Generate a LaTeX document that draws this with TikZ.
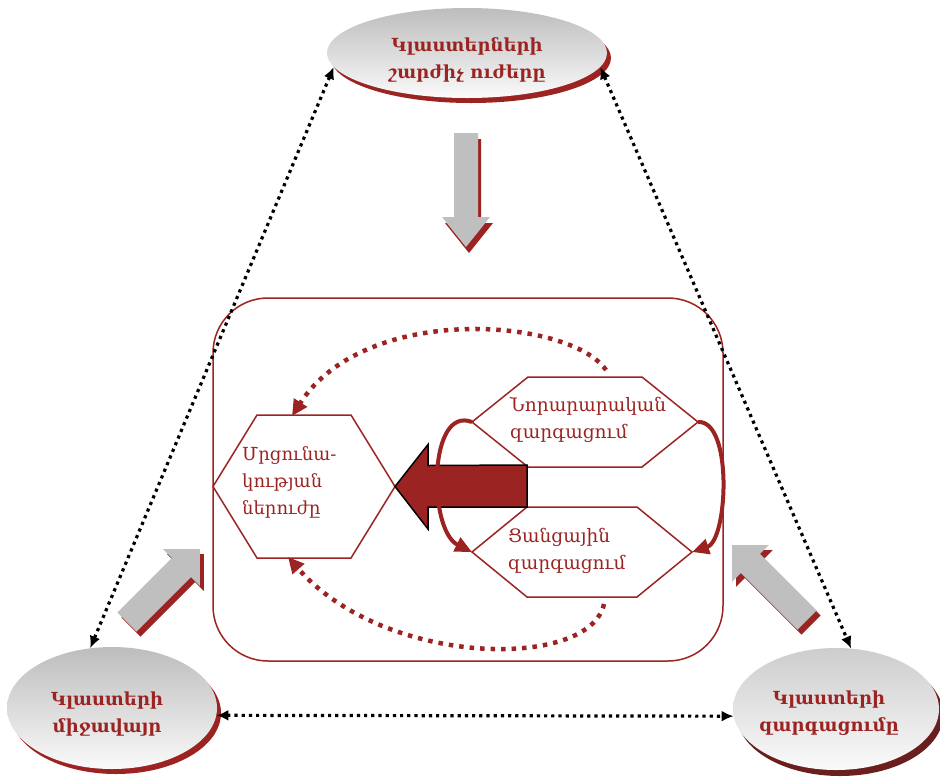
\documentclass[tikz,border=0pt]{standalone}
\usepackage{fontspec}
\setmainfont{DejaVu Serif}
\usetikzlibrary{shapes.geometric,arrows.meta,shadows,calc}
\definecolor{dred}{HTML}{9B2423}
\definecolor{dredb}{HTML}{6A1E1E}
\definecolor{agray}{HTML}{BFBFBF}
\definecolor{etop}{HTML}{BDBDBD}
\definecolor{etopb}{HTML}{CDCDCD}
\definecolor{ebot}{HTML}{FAFAFA}
\newcommand{\hexa}[6]{%
  \coordinate (#1-w) at ({#2-#4},#3);
  \coordinate (#1-e) at ({#2+#4},#3);
  \coordinate (#1-nw) at ({#2-#4+#6},{#3-#5});
  \coordinate (#1-ne) at ({#2+#4-#6},{#3-#5});
  \coordinate (#1-sw) at ({#2-#4+#6},{#3+#5});
  \coordinate (#1-se) at ({#2+#4-#6},{#3+#5});
  \draw[hexline] (#1-w) -- (#1-nw) -- (#1-ne) -- (#1-e) -- (#1-se) -- (#1-sw) -- cycle;
}
\begin{document}
\begin{tikzpicture}[x=1pt,y=-1pt,
  cloud/.style={ellipse, inner sep=0pt, top color=etop, bottom color=ebot,
    general shadow={fill=dred, shadow xshift=4pt, shadow yshift=-5pt}},
  cloudtext/.style={font=\bfseries\fontsize{18}{27}\selectfont, text=dred, align=center, inner sep=0pt},
  hexline/.style={draw=dred, line width=1.5pt, line join=miter},
  hextext/.style={font=\fontsize{18.5}{27}\selectfont, text=dred, align=left, inner sep=0pt, anchor=west},
  blk/.style={line width=3.2pt, dash pattern=on 3.2pt off 4pt, black,
    {Latex[length=12pt,width=11pt]}-{Latex[length=12pt,width=11pt]}},
  carrow/.style={draw=dred, line width=4pt, -{Triangle[length=17pt,width=15pt]}},
  rdot/.style={draw=dred, line width=4.5pt, dash pattern=on 4.5pt off 6pt, -{Triangle[length=16pt,width=15pt]}},
]
\useasboundingbox (0,0) rectangle (940,780);

% frame
\node[draw=dred, line width=1.5pt, rounded corners=55pt, minimum width=510pt, minimum height=363pt, inner sep=0pt] (frame) at (468,479.5) {};

% ellipses
\node[cloud, minimum width=280pt, minimum height=90pt] (top) at (467,53) {};
\node[cloud, minimum width=210pt, minimum height=122pt] (bl) at (112,708) {};
\node[cloud, top color=etopb, general shadow={fill=dredb, shadow xshift=4pt, shadow yshift=-6pt}, minimum width=206pt, minimum height=122pt] (br) at (836,709) {};
\node[cloudtext] (topT) at (467,60) {Կլաստերների\\շարժիչ ուժերը};
\node[cloudtext] (blT) at (107,714) {Կլաստերի\\միջավայր};
\node[cloudtext] (brT) at (829,713) {Կլաստերի\\զարգացումը};

% dotted black connectors
\draw[blk] (top.186) -- (bl.110);
\draw[blk] (top.354) -- (br.76);
\draw[blk] (bl.-4) -- (br.184);

% down arrow
\fill[dred] (457,139) -- (481,139) -- (481,223) -- (493,223) -- (469,253) -- (445,223) -- (457,223) -- cycle;
\fill[agray] (454,133) -- (478,133) -- (478,217) -- (490,217) -- (466,247) -- (442,217) -- (454,217) -- cycle;

% diagonal arrows
\begin{scope}[shift={(131,627)}, rotate=45]
  \fill[dred] (0,-13.5) -- (77,-13.5) -- (77,-26) -- (103,0) -- (77,26) -- (77,13.5) -- (0,13.5) -- cycle;
\end{scope}
\begin{scope}[shift={(127,622)}, rotate=45]
  \fill[agray] (0,-13.5) -- (77,-13.5) -- (77,-26) -- (103,0) -- (77,26) -- (77,13.5) -- (0,13.5) -- cycle;
\end{scope}
\begin{scope}[shift={(811,625)}, rotate=135]
  \fill[dred] (0,-13.5) -- (80,-13.5) -- (80,-26) -- (106,0) -- (80,26) -- (80,13.5) -- (0,13.5) -- cycle;
\end{scope}
\begin{scope}[shift={(807,620)}, rotate=135]
  \fill[agray] (0,-13.5) -- (80,-13.5) -- (80,-26) -- (106,0) -- (80,26) -- (80,13.5) -- (0,13.5) -- cycle;
\end{scope}

% hexagons
\hexa{L}{304}{486.5}{91}{71.5}{44}
\hexa{T}{585}{422}{113}{45}{56}
\hexa{B}{582}{552}{110}{45}{55}
\node[hextext, font=\fontsize{18}{27}\selectfont] (L-t) at (242,482) {Մրցունա-\\կության\\ներուժը};
\node[hextext] (T-t) at (510,420) {Նորարարական\\զարգացում};
\node[hextext] (B-t) at (508,551) {Ցանցային\\զարգացում};

% big arrow
\draw[fill=dred, draw=black, line width=1.5pt, line join=miter]
  (L-e) -- ++(33,-42) -- ++(0,21) -- (527,465) -- (527,507) -- (428,507) -- (428,529) -- cycle;

% curved thick arrows
\draw[carrow] (T-w) .. controls (428,405) and (428,530) .. (B-w);
\draw[carrow] (T-e) .. controls (733,420) and (728,540) .. (B-e);

% dotted red arrows
\coordinate (s1) at (606,370);
\coordinate (L-top) at (292,416);
\coordinate (s2) at (604,604);
\coordinate (L-bot) at (288,557);
\draw[rdot] (s1) .. controls (570,318) and (365,302) .. (L-top);
\draw[rdot] (s2) .. controls (590,670) and (385,668) .. (L-bot);
\end{tikzpicture}
\end{document}
